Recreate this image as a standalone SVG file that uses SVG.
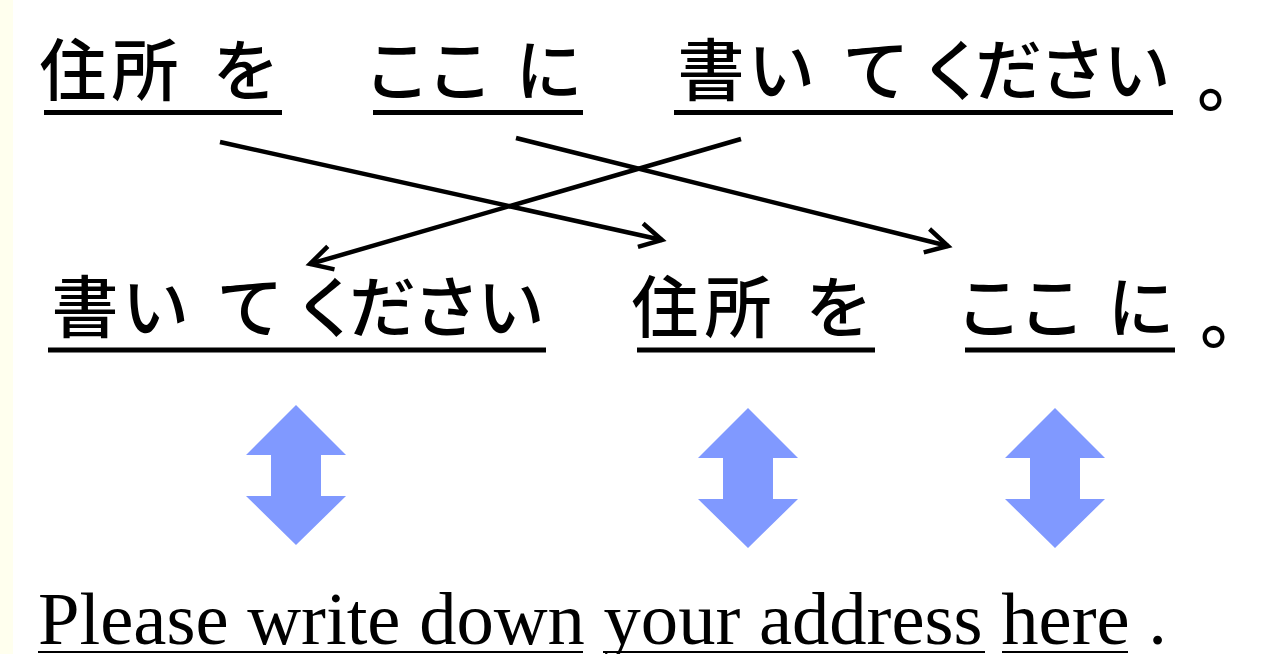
<svg xmlns="http://www.w3.org/2000/svg" width="1277" height="654" viewBox="0 0 1277 654">
<style>
.jp{font-family:"Noto Sans CJK JP","Noto Sans CJK SC",sans-serif;font-size:67px;font-weight:500;fill:#000;text-anchor:middle}
.jpp{font-family:"Noto Sans CJK JP","Noto Sans CJK SC",sans-serif;font-size:70px;font-weight:500;fill:#000}
.en{font-family:"Liberation Serif","Times New Roman",serif;font-size:74.6px;fill:#000}
.ul{stroke:#000;stroke-width:5}
.ulen{stroke:#000;stroke-width:2}
.conn{stroke:#000;stroke-width:4.5;fill:none;marker-end:url(#chev)}
.dbl{fill:#8099FF}
</style>
<defs>
<marker id="chev" markerUnits="userSpaceOnUse" viewBox="-26 -16 30 32" refX="0" refY="0" markerWidth="30" markerHeight="32" orient="auto" overflow="visible">
<path d="M-22,-12 L0,0 L-22,12" fill="none" stroke="#000" stroke-width="4.5" stroke-linejoin="miter"/>
</marker>
<path id="dblarrow" d="M0,0 L50,50 L25,50 L25,91 L50,91 L0,140 L-50,91 L-25,91 L-25,50 L-50,50 Z"/>
</defs>
<rect x="0" y="0" width="1277" height="654" fill="#fff"/>
<rect x="0" y="0" width="13" height="654" fill="#FFFFEE"/>

<g id="top-jusho-wo">
<text class="jp" x="73 145 246" y="95">住所を</text>
<line class="ul" x1="44" y1="112.5" x2="282" y2="112.5"/>
</g>
<g id="top-koko-ni">
<text class="jp" x="397 460 549" y="95">ここに</text>
<line class="ul" x1="373" y1="112.5" x2="583" y2="112.5"/>
</g>
<g id="top-kaite-kudasai">
<text class="jp" x="711 781.5 876 952.5 1008.5 1072.5 1137" y="95">書いてください</text>
<line class="ul" x1="674" y1="112.5" x2="1173" y2="112.5"/>
</g>
<g id="top-period">
<text class="jpp" x="1197" y="106">。</text>
</g>

<g id="bottom-kaite-kudasai">
<text class="jp" x="85 155.5 250 326.5 382.5 446.5 511" y="332">書いてください</text>
<line class="ul" x1="48" y1="350" x2="546" y2="350"/>
</g>
<g id="bottom-jusho-wo">
<text class="jp" x="665 738 839" y="332">住所を</text>
<line class="ul" x1="637" y1="350" x2="875" y2="350"/>
</g>
<g id="bottom-koko-ni">
<text class="jp" x="989 1052 1141" y="332">ここに</text>
<line class="ul" x1="965" y1="350" x2="1175" y2="350"/>
</g>
<g id="bottom-period">
<text class="jpp" x="1200" y="343">。</text>
</g>

<g id="connectors">
<line class="conn" x1="220" y1="142" x2="662" y2="240"/>
<line class="conn" x1="516" y1="138" x2="948" y2="246"/>
<line class="conn" x1="741" y1="139" x2="310" y2="264"/>
</g>

<g id="double-arrow-1"><use href="#dblarrow" class="dbl" transform="translate(296,405)"/></g>
<g id="double-arrow-2"><use href="#dblarrow" class="dbl" transform="translate(748,408)"/></g>
<g id="double-arrow-3"><use href="#dblarrow" class="dbl" transform="translate(1055,408)"/></g>

<g id="english">
<text class="en" x="38" y="644" xml:space="preserve">Please write down your address here .</text>
<line class="ulen" x1="38" y1="652" x2="583" y2="652"/>
<line class="ulen" x1="603" y1="652" x2="985" y2="652"/>
<line class="ulen" x1="1002" y1="652" x2="1128" y2="652"/>
</g>
</svg>
